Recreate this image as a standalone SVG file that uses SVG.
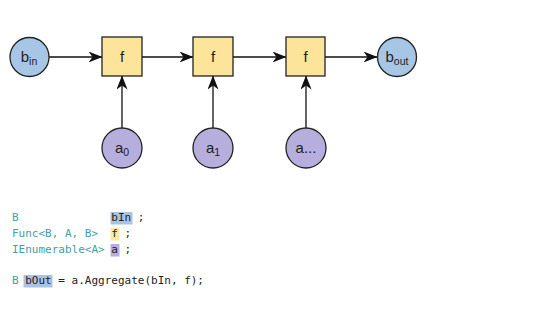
<svg xmlns="http://www.w3.org/2000/svg" width="540" height="318" viewBox="0 0 540 318">
<defs>
<style>
.b{fill:#a7c6e6;stroke:#222;stroke-width:1.3}
.a{fill:#b6aedc;stroke:#222;stroke-width:1.3}
.f{fill:#fde49b;stroke:#222;stroke-width:1.3}
.lbl{font-family:"Liberation Sans",Arial,sans-serif;font-size:15px;fill:#222;text-anchor:middle}
.sub{font-size:10.5px}
.edge{stroke:#111;stroke-width:1.3;fill:none;marker-end:url(#arr)}
.code{font-family:"DejaVu Sans Mono","Liberation Mono",monospace;font-size:11px;fill:#222}
.t{fill:#45a0a0}
</style>
<marker id="arr" viewBox="0 0 14 11" refX="13.5" refY="5.5" markerWidth="14" markerHeight="11" markerUnits="userSpaceOnUse" orient="auto">
<path d="M0,0 L14,5.5 L0,11 L4,5.5 Z" fill="#111"/>
</marker>
</defs>
<rect width="540" height="318" fill="#fff"/>
<g id="connectors">
<line class="edge" x1="49" y1="57" x2="102" y2="57"/>
<line class="edge" x1="142" y1="57" x2="193" y2="57"/>
<line class="edge" x1="233" y1="57" x2="286" y2="57"/>
<line class="edge" x1="325" y1="57" x2="377" y2="57"/>
<line class="edge" x1="122" y1="128" x2="122" y2="76"/>
<line class="edge" x1="213" y1="128" x2="213" y2="76"/>
<line class="edge" x1="306" y1="128" x2="306" y2="76"/>
</g>
<g id="bin"><circle class="b" cx="29.5" cy="57" r="19.5"/><text class="lbl" x="29" y="62">b<tspan class="sub" dy="3">in</tspan></text></g>
<g id="f1"><rect class="f" x="102" y="37" width="40" height="39"/><text class="lbl" x="122" y="62">f</text></g>
<g id="f2"><rect class="f" x="193" y="37" width="40" height="39"/><text class="lbl" x="213" y="62">f</text></g>
<g id="f3"><rect class="f" x="286" y="37" width="39" height="39"/><text class="lbl" x="305.5" y="62">f</text></g>
<g id="bout"><circle class="b" cx="397" cy="57" r="19.5"/><text class="lbl" x="397" y="62">b<tspan class="sub" dy="3">out</tspan></text></g>
<g id="a0"><circle class="a" cx="122" cy="148" r="20"/><text class="lbl" x="122" y="153">a<tspan class="sub" dy="3">0</tspan></text></g>
<g id="a1"><circle class="a" cx="213" cy="148" r="20"/><text class="lbl" x="213" y="153">a<tspan class="sub" dy="3">1</tspan></text></g>
<g id="an"><circle class="a" cx="306" cy="148" r="20"/><text class="lbl" x="306" y="153">a...</text></g>
<g id="code">
<rect x="110.5" y="212" width="22" height="12.5" fill="#a9c4e2"/>
<rect x="110.5" y="228" width="9" height="12.5" fill="#fdeaa0"/>
<rect x="110.5" y="244" width="9" height="12.5" fill="#b7aee0"/>
<rect x="23.5" y="275" width="29" height="12.5" fill="#a9c4e2"/>
<text class="code t" x="12" y="221">B</text>
<text class="code" x="111.3" y="221">bIn ;</text>
<text class="code t" x="12" y="237">Func&lt;B, A, B&gt;</text>
<text class="code" x="111.3" y="237">f ;</text>
<text class="code t" x="12" y="253">IEnumerable&lt;A&gt;</text>
<text class="code" x="111.3" y="253">a ;</text>
<text class="code t" x="12" y="284">B</text>
<text class="code" x="25.2" y="284">bOut = a.Aggregate(bIn, f);</text>
</g>
</svg>
